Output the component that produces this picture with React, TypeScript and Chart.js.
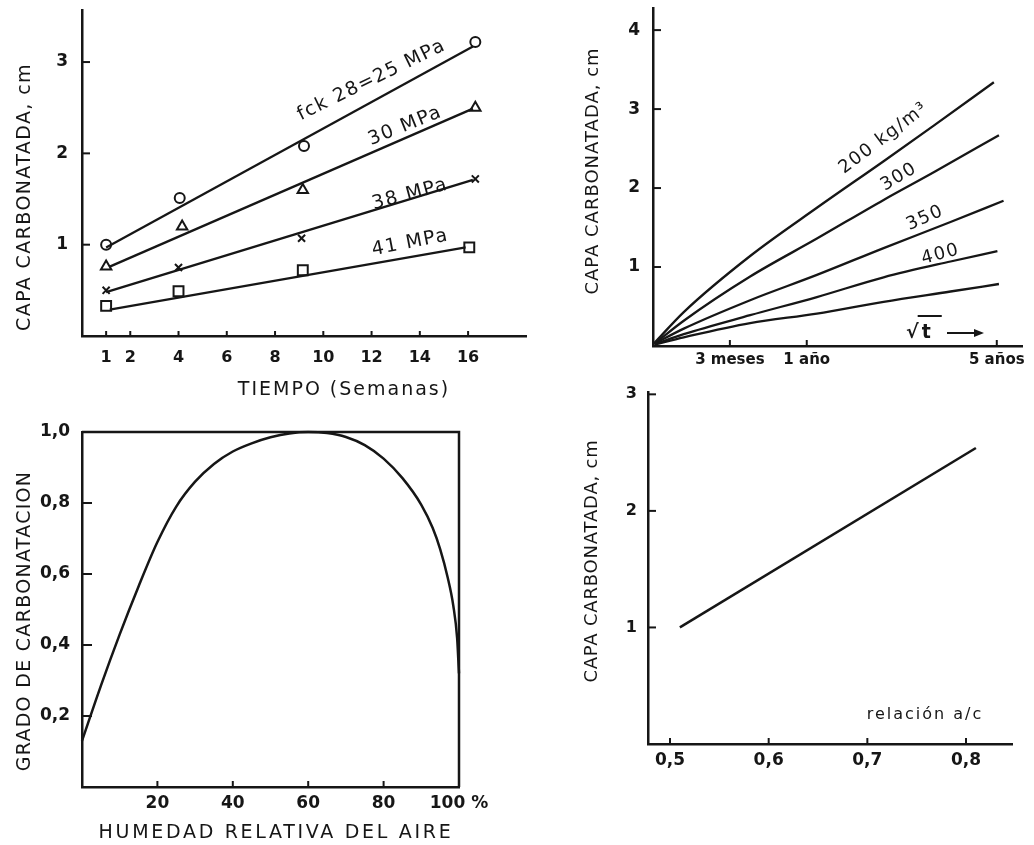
import React, { useEffect, useRef } from 'react';
import { Chart, registerables } from 'chart.js';

Chart.register(...registerables);

const INK = '#161616';
const FONT = '"DejaVu Sans", "Liberation Sans", sans-serif';

type Pt = { x: number; y: number };

// ---------- Panel A: carbonated depth vs time (weeks) ----------
const weekTicks = [1, 2, 4, 6, 8, 10, 12, 14, 16];
const weekTickLabels = ['1', '2', '4', '6', '8', '10', '12', '14', '16'];
const depthTicksA = [1, 2, 3];
const depthTickLabelsA = ['1', '2', '3'];
const mpa25Points: Pt[] = [{ x: 1, y: 1.0 }, { x: 4.05, y: 1.51 }, { x: 9.2, y: 2.08 }, { x: 16.3, y: 3.22 }];
const mpa30Points: Pt[] = [{ x: 1, y: 0.76 }, { x: 4.15, y: 1.2 }, { x: 9.15, y: 1.6 }, { x: 16.3, y: 2.5 }];
const mpa38Points: Pt[] = [{ x: 1, y: 0.5 }, { x: 4.0, y: 0.75 }, { x: 9.1, y: 1.07 }, { x: 16.3, y: 1.72 }];
const mpa41Points: Pt[] = [{ x: 1, y: 0.33 }, { x: 4.0, y: 0.49 }, { x: 9.15, y: 0.72 }, { x: 16.05, y: 0.97 }];
const mpa25Fit: Pt[] = [{ x: 1, y: 0.97 }, { x: 16.2, y: 3.17 }];
const mpa30Fit: Pt[] = [{ x: 1.15, y: 0.76 }, { x: 16.2, y: 2.49 }];
const mpa38Fit: Pt[] = [{ x: 1.0, y: 0.48 }, { x: 16.2, y: 1.71 }];
const mpa41Fit: Pt[] = [{ x: 1.15, y: 0.29 }, { x: 15.9, y: 0.97 }];

// ---------- Panel B: carbonated depth vs sqrt(time), by cement content ----------
const sqrtTimeTicks = [0.5, 1, 2.236];
const sqrtTimeLabels = ['3 meses', '1 año', '5 años'];
const depthTicksB = [1, 2, 3, 4];
const depthTickLabelsB = ['1', '2', '3', '4'];
const cement200: Pt[] = [{ x: 0.01, y: 0.04 }, { x: 0.2, y: 0.43 }, { x: 0.632, y: 1.14 }, { x: 1.066, y: 1.75 }, { x: 1.5, y: 2.34 }, { x: 1.826, y: 2.79 }, { x: 2.217, y: 3.34 }];
const cement300: Pt[] = [{ x: 0.01, y: 0.03 }, { x: 0.2, y: 0.32 }, { x: 0.632, y: 0.88 }, { x: 1.066, y: 1.36 }, { x: 1.5, y: 1.85 }, { x: 1.826, y: 2.2 }, { x: 2.25, y: 2.67 }];
const cement350: Pt[] = [{ x: 0.01, y: 0.03 }, { x: 0.2, y: 0.22 }, { x: 0.632, y: 0.58 }, { x: 1.066, y: 0.9 }, { x: 1.5, y: 1.24 }, { x: 1.935, y: 1.57 }, { x: 2.28, y: 1.84 }];
const cement400: Pt[] = [{ x: 0.01, y: 0.02 }, { x: 0.2, y: 0.15 }, { x: 0.632, y: 0.39 }, { x: 1.066, y: 0.62 }, { x: 1.5, y: 0.87 }, { x: 1.935, y: 1.07 }, { x: 2.24, y: 1.2 }];
const cementLow: Pt[] = [{ x: 0.01, y: 0.02 }, { x: 0.2, y: 0.11 }, { x: 0.632, y: 0.29 }, { x: 1.066, y: 0.41 }, { x: 1.5, y: 0.56 }, { x: 1.935, y: 0.69 }, { x: 2.25, y: 0.785 }];

// ---------- Panel C: degree of carbonation vs relative humidity ----------
const humidityTicks = [20, 40, 60, 80, 100];
const humidityLabels = ['20', '40', '60', '80', '100 %'];
const degreeTicks = [0.2, 0.4, 0.6, 0.8, 1.0];
const degreeLabels = ['0,2', '0,4', '0,6', '0,8', '1,0'];
const humidityCurve: Pt[] = [
  { x: 0, y: 0.13 }, { x: 5, y: 0.285 }, { x: 10, y: 0.43 }, { x: 15, y: 0.565 }, { x: 20, y: 0.69 },
  { x: 25, y: 0.79 }, { x: 30, y: 0.86 }, { x: 35, y: 0.91 }, { x: 40, y: 0.945 }, { x: 45, y: 0.968 },
  { x: 50, y: 0.985 }, { x: 55, y: 0.996 }, { x: 60, y: 1.0 }, { x: 65, y: 0.997 }, { x: 70, y: 0.986 },
  { x: 75, y: 0.963 }, { x: 80, y: 0.925 }, { x: 85, y: 0.87 }, { x: 90, y: 0.795 }, { x: 93, y: 0.73 },
  { x: 95, y: 0.67 }, { x: 97, y: 0.59 }, { x: 98.5, y: 0.51 }, { x: 99.5, y: 0.42 }, { x: 100, y: 0.32 },
];

// ---------- Panel D: carbonated depth vs water/cement ratio ----------
const wcTicks = [0.5, 0.6, 0.7, 0.8];
const wcLabels = ['0,5', '0,6', '0,7', '0,8'];
const depthTicksD = [1, 2, 3];
const depthTickLabelsD = ['1', '2', '3'];
const wcLine: Pt[] = [{ x: 0.51, y: 1.0 }, { x: 0.81, y: 2.54 }];

type Txt = { text: string; x: number; y: number; rot?: number; size: number; weight?: string; spacing?: number };

interface Decor {
  left: number;
  top: number;
  xTicks: number[];
  xTickLen: number;
  yTicks: number[];
  yTickLen: number;
  box?: boolean;
  pageTexts: Txt[];
  dataTexts: Txt[];
  extra?: (ctx: CanvasRenderingContext2D, chart: any, d: Decor) => void;
}

function drawText(ctx: CanvasRenderingContext2D, t: Txt, x: number, y: number) {
  ctx.save();
  ctx.translate(x, y);
  ctx.rotate(((t.rot || 0) * Math.PI) / 180);
  ctx.font = `${t.weight || 'normal'} ${t.size}px ${FONT}`;
  (ctx as any).letterSpacing = `${t.spacing || 0}px`;
  ctx.textAlign = 'center';
  ctx.textBaseline = 'middle';
  ctx.fillStyle = INK;
  ctx.fillText(t.text, 0, 0);
  ctx.restore();
}

function decorPlugin(d: Decor) {
  return {
    id: 'decor',
    afterDraw(chart: any) {
      const { ctx, chartArea: a, scales } = chart;
      const xs = scales.x;
      const ys = scales.y;
      ctx.save();
      ctx.strokeStyle = INK;
      ctx.lineWidth = 2;
      for (const v of d.xTicks) {
        const px = xs.getPixelForValue(v);
        ctx.beginPath();
        ctx.moveTo(px, a.bottom);
        ctx.lineTo(px, a.bottom - d.xTickLen);
        ctx.stroke();
      }
      for (const v of d.yTicks) {
        const py = ys.getPixelForValue(v);
        ctx.beginPath();
        ctx.moveTo(a.left, py);
        ctx.lineTo(a.left + d.yTickLen, py);
        ctx.stroke();
      }
      if (d.box) {
        ctx.lineWidth = 2.5;
        ctx.beginPath();
        ctx.moveTo(a.left, a.top);
        ctx.lineTo(a.right, a.top);
        ctx.lineTo(a.right, a.bottom);
        ctx.stroke();
      }
      d.pageTexts.forEach((t) => drawText(ctx, t, t.x - d.left, t.y - d.top));
      d.dataTexts.forEach((t) => drawText(ctx, t, xs.getPixelForValue(t.x), ys.getPixelForValue(t.y)));
      if (d.extra) d.extra(ctx, chart, d);
      ctx.restore();
    },
  };
}

function axis(o: {
  min: number; max: number; ticks: number[]; labels: string[]; size: number; weight?: string;
  padding: number; fit: number; horizontal: boolean;
}) {
  return {
    type: 'linear',
    min: o.min,
    max: o.max,
    grid: { display: false, drawTicks: false },
    border: { display: true, color: INK, width: 2.5 },
    ticks: {
      autoSkip: false,
      maxRotation: 0,
      minRotation: 0,
      padding: o.padding,
      color: INK,
      font: { family: FONT, size: o.size, weight: o.weight || 'bold' },
      callback: (_v: any, i: number) => o.labels[i] ?? '',
    },
    afterBuildTicks: (s: any) => {
      s.ticks = o.ticks.map((v) => ({ value: v }));
    },
    afterFit: (s: any) => {
      if (o.horizontal) s.height = o.fit;
      else s.width = o.fit;
      s.paddingLeft = 0;
      s.paddingRight = 0;
      s.paddingTop = 0;
      s.paddingBottom = 0;
    },
  };
}

const lineDs = (data: Pt[], width = 2.3, smooth = false) => ({
  data,
  showLine: true,
  borderColor: INK,
  borderWidth: width,
  pointRadius: 0,
  fill: false,
  clip: false as any,
  tension: smooth ? 0.4 : 0,
  cubicInterpolationMode: smooth ? 'monotone' : 'default',
});

const markerDs = (data: Pt[], style: string, radius: number) => ({
  data,
  showLine: false,
  pointStyle: style,
  pointRadius: radius,
  pointBorderWidth: 2,
  pointBorderColor: INK,
  pointBackgroundColor: '#ffffff',
  clip: false as any,
});

interface PanelSpec {
  left: number;
  top: number;
  width: number;
  height: number;
  padding: { left: number; top: number; right: number; bottom: number };
  datasets: any[];
  x: any;
  y: any;
  decor: Decor;
}

function Panel({ spec }: { spec: PanelSpec }) {
  const ref = useRef<HTMLCanvasElement | null>(null);
  useEffect(() => {
    if (!ref.current) return;
    const chart = new Chart(ref.current, {
      type: 'scatter',
      data: { datasets: spec.datasets },
      options: {
        responsive: false,
        animation: false,
        devicePixelRatio: 1,
        layout: { padding: spec.padding },
        plugins: { legend: { display: false }, tooltip: { enabled: false } },
        scales: { x: spec.x, y: spec.y },
      } as any,
      plugins: [decorPlugin(spec.decor)],
    } as any);
    return () => chart.destroy();
  }, [spec]);
  return (
    <canvas
      ref={ref}
      width={spec.width}
      height={spec.height}
      style={{ position: 'absolute', left: spec.left, top: spec.top, width: spec.width, height: spec.height }}
    />
  );
}

const panelA: PanelSpec = {
  left: 0, top: 0, width: 535, height: 410,
  padding: { left: 0, top: 10, right: 8, bottom: 0 },
  datasets: [
    lineDs(mpa25Fit), lineDs(mpa30Fit), lineDs(mpa38Fit), lineDs(mpa41Fit),
    markerDs(mpa25Points, 'circle', 5),
    markerDs(mpa30Points, 'triangle', 6),
    markerDs(mpa38Points, 'crossRot', 5),
    markerDs(mpa41Points, 'rect', 7),
  ],
  x: axis({ min: 0, max: 18.4, ticks: weekTicks, labels: weekTickLabels, size: 16, padding: 12, fit: 74, horizontal: true }),
  y: axis({ min: 0, max: 3.57, ticks: depthTicksA, labels: depthTickLabelsA, size: 17, padding: 14, fit: 82, horizontal: false }),
  decor: {
    left: 0, top: 0,
    xTicks: weekTicks, xTickLen: 5, yTicks: depthTicksA, yTickLen: 8,
    pageTexts: [
      { text: 'CAPA CARBONATADA, cm', x: 25, y: 197, rot: -90, size: 19, spacing: 1.4 },
      { text: 'TIEMPO (Semanas)', x: 344, y: 390, size: 19, spacing: 2 },
    ],
    dataTexts: [
      { text: 'fck 28=25 MPa', x: 12.0, y: 2.8, rot: -26, size: 19, spacing: 1.5 },
      { text: '30 MPa', x: 13.4, y: 2.3, rot: -22, size: 19, spacing: 1.5 },
      { text: '38 MPa', x: 13.6, y: 1.55, rot: -15, size: 19, spacing: 1.5 },
      { text: '41 MPa', x: 13.6, y: 1.02, rot: -11, size: 19, spacing: 1.5 },
    ],
  },
};

const panelB: PanelSpec = {
  left: 540, top: 0, width: 494, height: 372,
  padding: { left: 0, top: 8, right: 12, bottom: 0 },
  datasets: [
    lineDs(cement200, 2.3, true), lineDs(cement300, 2.3, true), lineDs(cement350, 2.3, true),
    lineDs(cement400, 2.3, true), lineDs(cementLow, 2.3, true),
  ],
  x: axis({ min: 0, max: 2.4, ticks: sqrtTimeTicks, labels: sqrtTimeLabels, size: 15, padding: 5, fit: 26, horizontal: true }),
  y: axis({ min: 0, max: 4.28, ticks: depthTicksB, labels: depthTickLabelsB, size: 17, padding: 13, fit: 113, horizontal: false }),
  decor: {
    left: 540, top: 0,
    xTicks: sqrtTimeTicks, xTickLen: 6, yTicks: depthTicksB, yTickLen: 8,
    pageTexts: [{ text: 'CAPA CARBONATADA, cm', x: 593, y: 171, rot: -90, size: 18, spacing: 1 }],
    dataTexts: [
      { text: '200 kg/m³', x: 1.5, y: 2.63, rot: -37, size: 18, spacing: 1.5 },
      { text: '300', x: 1.6, y: 2.14, rot: -31, size: 18, spacing: 1.5 },
      { text: '350', x: 1.77, y: 1.62, rot: -24, size: 18, spacing: 1.5 },
      { text: '400', x: 1.87, y: 1.16, rot: -15, size: 18, spacing: 1.5 },
    ],
    extra: (ctx, chart, d) => {
      const ox = d.left;
      const oy = d.top;
      ctx.save();
      ctx.font = `bold 19px ${FONT}`;
      ctx.fillStyle = INK;
      ctx.strokeStyle = INK;
      ctx.textBaseline = 'alphabetic';
      ctx.textAlign = 'left';
      const x0 = 906 - ox;
      const y0 = 338 - oy;
      ctx.fillText('√', x0, y0);
      const w1 = ctx.measureText('√').width;
      ctx.fillText('t', x0 + w1 + 3, y0);
      const w2 = ctx.measureText('t').width;
      ctx.lineWidth = 2;
      ctx.beginPath();
      ctx.moveTo(x0 + w1 - 1, 316 - oy);
      ctx.lineTo(x0 + w1 + w2 + 14, 316 - oy);
      ctx.stroke();
      ctx.beginPath();
      ctx.moveTo(947 - ox, 333 - oy);
      ctx.lineTo(976 - ox, 333 - oy);
      ctx.stroke();
      ctx.beginPath();
      ctx.moveTo(984 - ox, 333 - oy);
      ctx.lineTo(974 - ox, 329 - oy);
      ctx.lineTo(974 - ox, 337 - oy);
      ctx.closePath();
      ctx.fill();
      ctx.restore();
    },
  },
};

const panelC: PanelSpec = {
  left: 0, top: 410, width: 530, height: 435,
  padding: { left: 0, top: 22, right: 71, bottom: 0 },
  datasets: [lineDs(humidityCurve, 2.5, true)],
  x: axis({ min: 0, max: 100, ticks: humidityTicks, labels: humidityLabels, size: 17, padding: 6, fit: 58, horizontal: true }),
  y: axis({ min: 0, max: 1.0, ticks: degreeTicks, labels: degreeLabels, size: 17, padding: 12, fit: 82, horizontal: false }),
  decor: {
    left: 0, top: 410,
    xTicks: [20, 40, 60, 80], xTickLen: 6, yTicks: [0.2, 0.4, 0.6, 0.8], yTickLen: 10,
    box: true,
    pageTexts: [
      { text: 'GRADO DE CARBONATACION', x: 25, y: 621, rot: -90, size: 19, spacing: 1.3 },
      { text: 'HUMEDAD RELATIVA DEL AIRE', x: 276, y: 833, size: 19, spacing: 2.7 },
    ],
    dataTexts: [],
  },
};

const panelD: PanelSpec = {
  left: 540, top: 372, width: 494, height: 473,
  padding: { left: 0, top: 20, right: 22, bottom: 0 },
  datasets: [lineDs(wcLine, 2.5)],
  x: axis({ min: 0.4777, max: 0.8466, ticks: wcTicks, labels: wcLabels, size: 17, padding: 6, fit: 101, horizontal: true }),
  y: axis({ min: 0, max: 3.02, ticks: depthTicksD, labels: depthTickLabelsD, size: 16, padding: 11, fit: 108, horizontal: false }),
  decor: {
    left: 540, top: 372,
    xTicks: wcTicks, xTickLen: 6, yTicks: depthTicksD, yTickLen: 8,
    pageTexts: [
      { text: 'CAPA CARBONATADA, cm', x: 592, y: 561, rot: -90, size: 18, spacing: 0.8 },
      { text: 'relación a/c', x: 925, y: 715, size: 16, spacing: 2 },
    ],
    dataTexts: [],
  },
};

export default function App() {
  return (
    <div style={{ position: 'absolute', left: 0, top: 0, width: 1034, height: 845, background: '#ffffff', overflow: 'hidden' }}>
      <Panel spec={panelA} />
      <Panel spec={panelB} />
      <Panel spec={panelC} />
      <Panel spec={panelD} />
    </div>
  );
}
